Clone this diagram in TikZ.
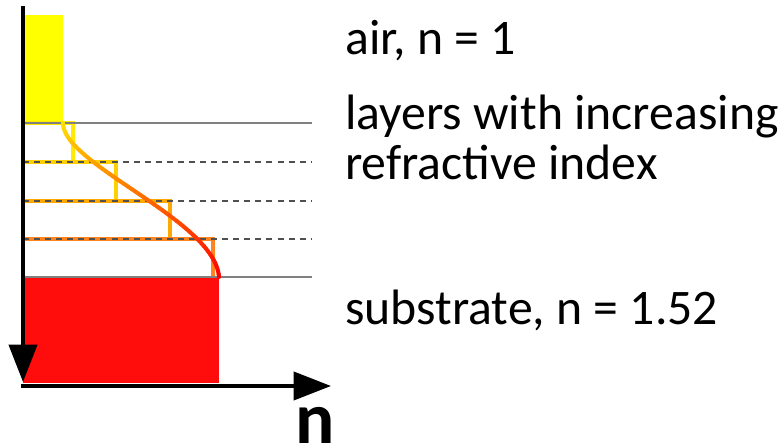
\documentclass[tikz,border=0pt]{standalone}
\usepackage{fontspec}
\setmainfont{Carlito}
\usetikzlibrary{arrows.meta}
\definecolor{layA}{HTML}{FFEA00}
\definecolor{layB}{HTML}{FFD000}
\definecolor{layC}{HTML}{FFA800}
\definecolor{layD}{HTML}{FF8420}
\definecolor{subred}{HTML}{FF0D0D}
\definecolor{airyel}{HTML}{FFFF00}
\definecolor{gridgray}{HTML}{808080}
\definecolor{dashgray}{HTML}{505050}
\tikzset{
  axis/.style={line width=3pt, -{Triangle[width=21pt,length=28pt]}},
  stepline/.style={line width=3pt},
  solidgrid/.style={line width=1.2pt, gridgray},
  dashgrid/.style={line width=1.3pt, dashgray, dash pattern=on 4.5pt off 3.8pt},
  curveseg/.style={line width=3pt, line cap=round},
  label/.style={anchor=base west, inner sep=0pt, font=\fontsize{37.3}{37.5}\selectfont, align=left},
  axislabel/.style={anchor=base west, inner sep=0pt, font=\fontsize{55}{55}\selectfont\bfseries}
}
\begin{document}
\begin{tikzpicture}[x=0.75pt,y=-0.75pt]
\useasboundingbox (0,0) rectangle (781,448);
% fills
\fill[airyel] (23,15) rectangle (63,123);
\fill[subred] (23,277) rectangle (219,383);
% layer steps
\draw[stepline, layA] (23,123) -- (73,123) -- (73,162);
\draw[stepline, layB] (23,162) -- (116,162) -- (116,201);
\draw[stepline, layC] (23,201) -- (170,201) -- (170,239);
\draw[stepline, layD] (23,239) -- (213,239) -- (213,277);
% grid lines
\draw[solidgrid] (23,123) -- (312,123);
\draw[dashgrid] (23,162) -- (312,162);
\draw[dashgrid] (23,201) -- (312,201);
\draw[dashgrid] (23,239) -- (312,239);
\draw[solidgrid] (23,277) -- (312,277);
% curve with colour gradient
\foreach \i in {0,...,59}{
  \pgfmathsetmacro{\ta}{\i/60}
  \pgfmathsetmacro{\tb}{(\i+1)/60}
  \pgfmathsetmacro{\xa}{(1-\ta)^3*63 + 3*(1-\ta)^2*\ta*63 + 3*(1-\ta)*\ta^2*215 + \ta^3*219}
  \pgfmathsetmacro{\ya}{(1-\ta)^3*123 + 3*(1-\ta)^2*\ta*165 + 3*(1-\ta)*\ta^2*220 + \ta^3*277}
  \pgfmathsetmacro{\xb}{(1-\tb)^3*63 + 3*(1-\tb)^2*\tb*63 + 3*(1-\tb)*\tb^2*215 + \tb^3*219}
  \pgfmathsetmacro{\yb}{(1-\tb)^3*123 + 3*(1-\tb)^2*\tb*165 + 3*(1-\tb)*\tb^2*220 + \tb^3*277}
  \pgfmathsetmacro{\cc}{10+90*(\ta+\tb)/2}
  \draw[curveseg, red!\cc!yellow] (\xa,\ya) -- (\xb,\yb);
}
% axes
\coordinate (ytop) at (23,6);
\coordinate (ytip) at (23,382);
\coordinate (xstart) at (21,386);
\coordinate (xtip) at (331,386);
\draw[axis] (ytop) -- (ytip);
\draw[axis] (xstart) -- (xtip);
% labels
\node[label] (air) at (345,55) {air, n = 1};
\node[label] (layers) at (345,180) {layers with increasing\\refractive index};
\node[label] (sub) at (345,325) {substrate, n = 1.52};
\node[axislabel] (nlab) at (295,443) {n};
\end{tikzpicture}
\end{document}
